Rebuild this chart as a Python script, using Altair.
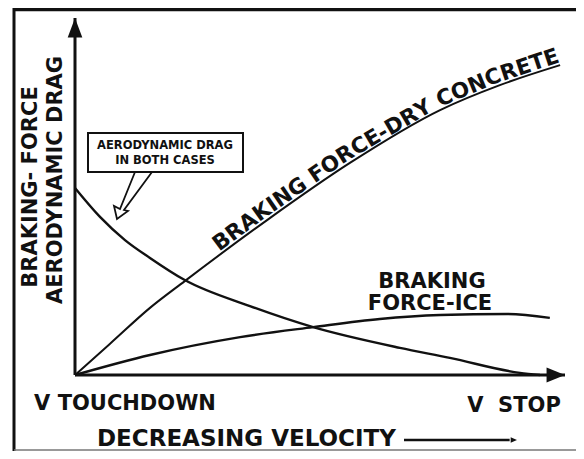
import math
import altair as alt
import pandas as pd

# ---------------- data ----------------
# x: position along the velocity axis (0 = touchdown, 100 = stop)
# y: height as % of the force / drag axis
dry_x = [0, 7.1, 15.3, 22.4, 39.2, 56.1, 74.5, 86.7, 99.0]
dry_y = [0, 8.7, 18.8, 26.3, 43.4, 59.4, 74.2, 81.2, 86.8]
drag_x = [0, 5.1, 10.2, 15.3, 22.4, 35.7, 48.6, 66.3, 76.5, 90.8, 94.9]
drag_y = [52.4, 44.3, 37.8, 32.8, 26.6, 19.3, 13.4, 7.6, 4.8, 0.6, 0.0]
ice_x = [0, 15.3, 33.7, 48.6, 62.2, 74.5, 88.2, 96.9]
ice_y = [0, 5.6, 10.6, 13.4, 15.7, 16.8, 17.1, 16.0]

dry_label = "BRAKING FORCE-DRY CONCRETE"
ice_label = ["BRAKING", "FORCE-ICE"]
callout_lines = ["AERODYNAMIC DRAG", "IN BOTH CASES"]
y_title = ["BRAKING- FORCE", "AERODYNAMIC DRAG"]
x_start_label = "V TOUCHDOWN"
x_end_label = "V\u00a0\u00a0STOP"
x_title = "DECREASING VELOCITY"

# ---------------- layout ----------------
W, H = 568, 443
M = 8                      # page margin
OX, OY = 67, 367           # plot px of the axes origin
XL, YL = 490, 357          # axis lengths (to the arrow tips) in px
FONT = "DejaVu Sans"
INK = "#111111"

x_dom = [-OX / XL * 100, (W - OX) / XL * 100]
y_dom = [-(H - OY) / YL * 100, OY / YL * 100]


def to_data(px, py):
    """page pixel -> data units"""
    return (px - M - OX) / XL * 100, (OY - (py - M)) / YL * 100


def to_page(x, y):
    return M + OX + x / 100 * XL, M + OY - y / 100 * YL


def X(f="x"):
    return alt.X(f"{f}:Q", scale=alt.Scale(domain=x_dom, nice=False, zero=False), axis=None)


def Y(f="y"):
    return alt.Y(f"{f}:Q", scale=alt.Scale(domain=y_dom, nice=False, zero=False), axis=None)


# ---------------- curves ----------------
rows = []
for name, xs, ys, w in [("dry", dry_x, dry_y, 2.0), ("drag", drag_x, drag_y, 2.4), ("ice", ice_x, ice_y, 2.4)]:
    for i, (a, b) in enumerate(zip(xs, ys)):
        rows.append({"series": name, "i": i, "x": a, "y": b, "w": w})
curves_df = pd.DataFrame(rows)
curves = alt.Chart(curves_df).mark_line(interpolate="monotone", color=INK).encode(
    X(), Y(), detail="series:N", order="i:Q",
    strokeWidth=alt.StrokeWidth("w:Q", scale=None))

# ---------------- axes with arrowheads ----------------
axes_df = pd.DataFrame([{"x": 0, "y": 0, "x2": 100, "y2": 0}, {"x": 0, "y": 0, "x2": 0, "y2": 100}])
axes = alt.Chart(axes_df).mark_rule(color=INK, strokeWidth=3).encode(X(), Y(), x2="x2:Q", y2="y2:Q")
up_head = alt.Chart(pd.DataFrame([{"x": 0, "y": 100}])).mark_point(
    shape="M0,0L0.75,2L-0.75,2Z", filled=True, size=380, color=INK, opacity=1).encode(X(), Y())
right_head = alt.Chart(pd.DataFrame([{"x": 100, "y": 0}])).mark_point(
    shape="M0,0L-2,-0.8L-2,0.8Z", filled=True, size=340, color=INK, opacity=1).encode(X(), Y())

# small arrow after the x title
ax0 = to_data(404, 440)
ax1 = to_data(517, 440)
small_arrow = alt.Chart(pd.DataFrame([{"x": ax0[0], "y": ax0[1], "x2": ax1[0] - 1.5, "y2": ax1[1]}])).mark_rule(
    color=INK, strokeWidth=2.5).encode(X(), Y(), x2="x2:Q", y2="y2:Q")
small_head = alt.Chart(pd.DataFrame([{"x": ax1[0], "y": ax1[1]}])).mark_point(
    shape="M0,0L-2,-0.85L-2,0.85Z", filled=True, size=40, color=INK, opacity=1).encode(X(), Y())

# ---------------- frame ----------------
one = alt.Data(values=[{"k": 0}])
frame_left = alt.Chart(one).mark_rule(color=INK, strokeWidth=3).encode(
    x=alt.value(6), y=alt.value(0), y2=alt.value(H))
frame_top = alt.Chart(one).mark_rule(color=INK, strokeWidth=3.5).encode(
    x=alt.value(6), x2=alt.value(W), y=alt.value(1.5))
frame_bottom = alt.Chart(one).mark_rule(color="#777777", strokeWidth=1.5).encode(
    x=alt.value(6), x2=alt.value(W), y=alt.value(H - 1))

# ---------------- texts ----------------
def text_layer(items, size, align="center", angle=0, baseline="middle"):
    df = pd.DataFrame([{"x": to_data(px, py)[0], "y": to_data(px, py)[1], "t": t} for t, px, py in items])
    return alt.Chart(df).mark_text(font=FONT, fontWeight="bold", fontSize=size, color=INK,
                                   align=align, baseline=baseline, angle=angle).encode(X(), Y(), text="t:N")

y_titles = text_layer([(y_title[0], 31, 187), (y_title[1], 56, 180)], 21, angle=270)
x_start = text_layer([(x_start_label, 125, 404)], 21)
x_end = text_layer([(x_end_label, 514, 406)], 21)
x_tit = text_layer([(x_title, 97, 439)], 23, align="left")
ice_txt = text_layer([(ice_label[0], 432, 282), (ice_label[1], 430, 304)], 21)

# callout box
b0 = to_data(88, 133)
b1 = to_data(243, 172)
box = alt.Chart(pd.DataFrame([{"x": b0[0], "y": b0[1], "x2": b1[0], "y2": b1[1]}])).mark_rect(
    fill="white", stroke=INK, strokeWidth=2).encode(X(), Y(), x2="x2:Q", y2="y2:Q")
call_txt = text_layer([(callout_lines[0], 165, 146), (callout_lines[1], 165, 161)], 11.5)
ptr_px = [(135, 172), (120, 209), (114, 206), (117, 219), (128, 211), (124, 210), (152, 172)]
ptr_df = pd.DataFrame([{"i": i, "x": to_data(a, b)[0], "y": to_data(a, b)[1]} for i, (a, b) in enumerate(ptr_px)])
pointer = alt.Chart(ptr_df).mark_line(color=INK, strokeWidth=1.8).encode(X(), Y(), order="i:Q")

# curved label along the dry-concrete curve (character by character)
CW = {"B": .762, "R": .770, "A": .774, "K": .775, "I": .372, "N": .837, "G": .821, " ": .348,
      "F": .683, "O": .850, "C": .734, "E": .683, "-": .415, "D": .830, "Y": .724, "T": .682}
FS = 21.5
pts = [to_page(a, b) for a, b in zip(dry_x, dry_y)]
cum = [0.0]
for p, q in zip(pts[:-1], pts[1:]):
    cum.append(cum[-1] + math.hypot(q[0] - p[0], q[1] - p[1]))


def at(s):
    s = max(0.0, min(s, cum[-1]))
    for k in range(len(pts) - 1):
        if cum[k + 1] >= s:
            f = (s - cum[k]) / (cum[k + 1] - cum[k])
            return pts[k][0] + f * (pts[k + 1][0] - pts[k][0]), pts[k][1] + f * (pts[k + 1][1] - pts[k][1])
    return pts[-1]


def s_at_x(px):
    for k in range(len(pts) - 1):
        if pts[k + 1][0] >= px:
            f = (px - pts[k][0]) / (pts[k + 1][0] - pts[k][0])
            return cum[k] + f * (cum[k + 1] - cum[k])
    return cum[-1]


s = s_at_x(221)
crows = []
for ch in dry_label:
    w = CW.get(ch, .7) * FS
    c = s + w / 2
    p = at(c)
    pa, pb = at(c - 10), at(c + 10)
    tx, ty = pb[0] - pa[0], pb[1] - pa[1]
    n = math.hypot(tx, ty)
    tx, ty = tx / n, ty / n
    ax, ay = p[0] + ty * 3, p[1] - tx * 3
    if ch != " ":
        d = to_data(ax, ay)
        crows.append({"x": d[0], "y": d[1], "t": ch, "ang": math.degrees(math.atan2(ty, tx)) % 360})
    s += w
dry_txt = alt.Chart(pd.DataFrame(crows)).mark_text(
    font=FONT, fontWeight="bold", fontSize=FS, color=INK, align="center", baseline="alphabetic").encode(
    X(), Y(), text="t:N", angle=alt.Angle("ang:Q", scale=None))

chart = alt.layer(
    frame_left, frame_top, frame_bottom,
    curves, axes, up_head, right_head, small_arrow, small_head,
    pointer, box, call_txt,
    y_titles, x_start, x_end, x_tit, ice_txt, dry_txt,
).properties(
    width=W, height=H, padding=0, autosize=alt.AutoSizeParams(type="none"), background="white"
).configure_view(stroke=None)

chart.save("out.html", embed_options={"renderer": "svg", "actions": False})
